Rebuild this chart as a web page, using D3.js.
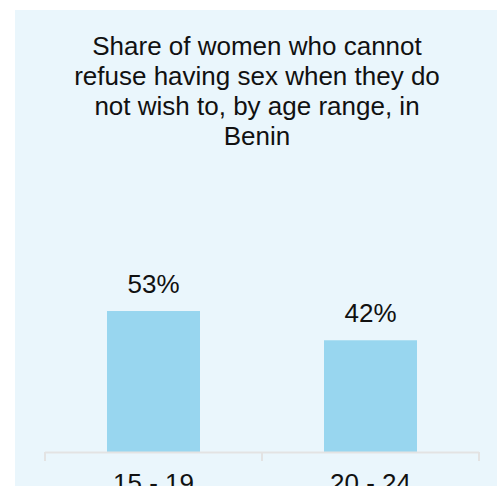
<!DOCTYPE html>
<html>
<head>
<meta charset="utf-8">
<script src="https://cdn.jsdelivr.net/npm/d3@7"></script>
<style>
  html, body { margin: 0; padding: 0; background: #ffffff; }
  svg { display: block; }
  text { font-family: "Liberation Sans", Arial, sans-serif; fill: #111111; }
</style>
</head>
<body>
<script>
const categories = ["15 - 19", "20 - 24"];
const values = [53, 42];
const valueLabels = ["53%", "42%"];
const titleLines = [
  "Share of women who cannot",
  "refuse having sex when they do",
  "not wish to, by age range, in",
  "Benin"
];

const W = 497, H = 486;
const svg = d3.select("body").append("svg").attr("width", W).attr("height", H);

// panel background
svg.append("rect").attr("x", 15).attr("y", 10).attr("width", W - 15).attr("height", H - 10)
  .attr("fill", "#eaf6fc");

// title
const title = svg.append("text").attr("text-anchor", "middle").style("font-size", "26px");
title.selectAll("tspan").data(titleLines).join("tspan")
  .attr("x", 257)
  .attr("y", (d, i) => 55 + i * 30)
  .text(d => d);

const x = d3.scaleBand().domain(categories).range([45, 479]).paddingInner(0.5714).paddingOuter(0.2857);
const y = d3.scaleLinear().domain([0, 100]).range([452, 186]);

// bars
svg.selectAll("rect.bar").data(values).join("rect").attr("class", "bar")
  .attr("x", (d, i) => x(categories[i]))
  .attr("width", x.bandwidth())
  .attr("y", d => y(d))
  .attr("height", d => y(0) - y(d))
  .attr("fill", "#98d6ef");

// value labels
svg.selectAll("text.val").data(values).join("text").attr("class", "val")
  .attr("text-anchor", "middle")
  .style("font-size", "26px")
  .attr("x", (d, i) => x(categories[i]) + x.bandwidth() / 2)
  .attr("y", d => y(d) - 18)
  .text((d, i) => valueLabels[i]);

// x axis
const xOuter = d3.scalePoint().domain([0, 1, 2]).range([45, 479]);
const axisG = svg.append("g");
axisG.append("line").attr("x1", 45).attr("x2", 479).attr("y1", 452.5).attr("y2", 452.5)
  .attr("stroke", "#e3e3e3").attr("stroke-width", 2);
axisG.selectAll("line.tick").data([0, 1, 2]).join("line").attr("class", "tick")
  .attr("x1", d => xOuter(d)).attr("x2", d => xOuter(d))
  .attr("y1", 452).attr("y2", 461)
  .attr("stroke", "#e3e3e3").attr("stroke-width", 2);
axisG.selectAll("text.cat").data(categories).join("text").attr("class", "cat")
  .attr("text-anchor", "middle")
  .style("font-size", "26px")
  .attr("x", d => x(d) + x.bandwidth() / 2)
  .attr("y", 492)
  .text(d => d);
</script>
</body>
</html>
